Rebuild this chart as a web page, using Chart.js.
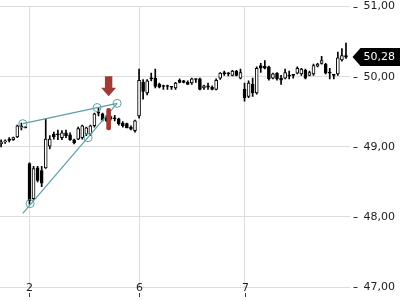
<!DOCTYPE html>
<html>
<head>
<meta charset="utf-8">
<script src="https://cdn.jsdelivr.net/npm/chart.js@4.4.1/dist/chart.umd.min.js"></script>
<style>
  html, body { margin: 0; padding: 0; background: #fff; }
  #wrap { width: 400px; height: 300px; }
</style>
</head>
<body>
<div id="wrap"><canvas id="priceChart"></canvas></div>
<script>
// intraday candles, one per slot
const opens = [49.04, 49.07, 49.11, 49.10, 49.14, 49.29, 49.28,
  48.76, 48.26, 48.70, 48.66, 48.70, 49.01, 49.18, 49.18, 49.13, 49.20, 49.17, 49.10, 49.11, 49.13, 49.18, 49.18, 49.30, 49.50, 49.47, 49.44, 49.43, 49.41, 49.40, 49.34, 49.33, 49.28, 49.23,
  49.44, 49.92, 49.77, 49.98, 49.98, 49.89, 49.87, 49.87, 49.86, 49.84, 49.95, 49.94, 49.92, 49.91, 49.96, 49.97, 49.84, 49.87, 49.85, 49.82, 49.98, 50.06, 50.05, 50.02, 50.08, 49.98,
  49.82, 49.72, 49.89, 49.77, 50.16, 50.15, 50.14, 49.98, 50.05, 49.98, 49.98, 50.02, 50.02, 50.05, 50.04, 50.09, 50.02, 50.04, 50.15, 50.19, 50.18, 50.06, 50.02, 50.04, 50.24, 50.30];
const highs = [49.10, 49.10, 49.13, 49.14, 49.31, 49.34, 49.29,
  48.77, 48.72, 48.72, 48.72, 49.40, 49.16, 49.21, 49.24, 49.23, 49.24, 49.20, 49.11, 49.28, 49.31, 49.28, 49.31, 49.48, 49.55, 49.48, 49.45, 49.44, 49.45, 49.41, 49.36, 49.34, 49.30, 49.38,
  50.11, 49.96, 49.96, 50.05, 50.11, 49.91, 49.88, 49.88, 49.86, 49.92, 49.97, 49.95, 49.94, 49.98, 49.97, 49.98, 49.88, 49.91, 49.87, 49.97, 50.06, 50.08, 50.06, 50.09, 50.09, 50.11,
  49.91, 49.94, 49.98, 50.14, 50.19, 50.23, 50.15, 50.05, 50.06, 50.02, 50.11, 50.08, 50.03, 50.14, 50.12, 50.11, 50.08, 50.18, 50.19, 50.29, 50.19, 50.12, 50.03, 50.35, 50.40, 50.48];
const lows = [49.00, 49.05, 49.07, 49.09, 49.13, 49.24, 49.27,
  48.18, 48.25, 48.50, 48.43, 48.69, 48.97, 49.11, 49.10, 49.10, 49.13, 49.09, 49.04, 49.10, 49.11, 49.16, 49.16, 49.28, 49.44, 49.37, 49.36, 49.38, 49.37, 49.31, 49.28, 49.27, 49.24, 49.21,
  49.41, 49.68, 49.74, 49.94, 49.84, 49.84, 49.82, 49.82, 49.82, 49.82, 49.91, 49.91, 49.89, 49.89, 49.92, 49.81, 49.82, 49.82, 49.81, 49.81, 49.96, 50.02, 50.01, 50.01, 50.01, 49.97,
  49.65, 49.70, 49.72, 49.75, 50.06, 50.11, 49.95, 49.97, 49.95, 49.89, 49.97, 49.97, 49.98, 50.04, 50.02, 49.97, 50.01, 50.02, 50.14, 50.18, 50.04, 49.97, 49.97, 50.02, 50.22, 50.26];
const closes = [49.07, 49.08, 49.09, 49.13, 49.30, 49.28, 49.27,
  48.23, 48.69, 48.52, 48.48, 49.11, 49.11, 49.14, 49.17, 49.20, 49.16, 49.10, 49.06, 49.26, 49.30, 49.27, 49.30, 49.47, 49.48, 49.38, 49.37, 49.40, 49.40, 49.33, 49.30, 49.27, 49.25, 49.37,
  49.95, 49.79, 49.94, 49.97, 49.86, 49.85, 49.86, 49.86, 49.85, 49.91, 49.92, 49.92, 49.89, 49.97, 49.96, 49.82, 49.87, 49.85, 49.82, 49.95, 50.05, 50.04, 50.04, 50.08, 50.02, 50.06,
  49.70, 49.91, 49.77, 50.12, 50.12, 50.12, 49.97, 50.04, 49.97, 49.95, 50.06, 50.01, 50.02, 50.12, 50.11, 49.98, 50.06, 50.16, 50.18, 50.23, 50.05, 50.05, 50.02, 50.27, 50.30, 50.28];

// day separators on the time axis
const dayTicks = [7, 34, 60];
const dayLabels = ["2", "6", "7"];
const priceTicks = [47, 48, 49, 50, 51];

// drawn trend lines and their anchor points (slot, price)
const trendUpper = [{ x: 5.35, y: 49.33 }, { x: 28.6, y: 49.62 }];
const trendLower = [{ x: 5.35, y: 48.05 }, { x: 28.6, y: 49.62 }];
const trendPoints = [
  { x: 5.35, y: 49.33 }, { x: 23.66, y: 49.56 }, { x: 28.6, y: 49.62 },
  { x: 7.15, y: 48.19 }, { x: 21.44, y: 49.13 },
];
// red marker bar and sell arrow
const markerSlot = [26.5];
const markerRange = [49.24, 49.55];
const arrowTip = 49.72;

const teal = "#5b9fa8";
const darkRed = "#9e3b35";

const fmt = (v) => v.toFixed(2).replace(".", ",");

const wickData = highs.map((h, i) => ({ x: i, y: [lows[i], h] }));
const bodyData = opens.map((o, i) => ({ x: i, y: [o, closes[i]] }));
const bodyFill = opens.map((o, i) => (closes[i] > o ? "#ffffff" : "#000000"));

const overlay = {
  id: "overlay",
  afterDatasetsDraw(chart) {
    const { ctx, chartArea, scales } = chart;
    const xs = scales.x;
    const ys = scales.y;
    ctx.save();

    // sell arrow
    const ax = xs.getPixelForValue(markerSlot[0]);
    const tipY = ys.getPixelForValue(arrowTip);
    ctx.fillStyle = darkRed;
    ctx.beginPath();
    ctx.moveTo(ax - 3.7, tipY - 20);
    ctx.lineTo(ax + 3.7, tipY - 20);
    ctx.lineTo(ax + 3.7, tipY - 8.5);
    ctx.lineTo(ax + 7.5, tipY - 8.5);
    ctx.lineTo(ax, tipY);
    ctx.lineTo(ax - 7.5, tipY - 8.5);
    ctx.lineTo(ax - 3.7, tipY - 8.5);
    ctx.closePath();
    ctx.fill();

    // price axis dashes
    ctx.strokeStyle = "#333";
    ctx.lineWidth = 1;
    ys.ticks.forEach((t) => {
      const py = Math.round(ys.getPixelForValue(t.value)) + 0.5;
      ctx.beginPath();
      ctx.moveTo(chartArea.right + 4, py);
      ctx.lineTo(chartArea.right + 8, py);
      ctx.stroke();
    });

    // day labels sit on the bottom line, tick marks just under them
    ctx.font = "11px 'DejaVu Sans'";
    ctx.textAlign = "center";
    ctx.textBaseline = "middle";
    xs.ticks.forEach((t) => {
      const px = Math.round(xs.getPixelForValue(t.value)) + 0.5;
      ctx.fillStyle = "#222";
      ctx.fillText(dayLabels[dayTicks.indexOf(t.value)], px, chartArea.bottom + 1.5);
      ctx.beginPath();
      ctx.moveTo(px, chartArea.bottom + 6);
      ctx.lineTo(px, chartArea.bottom + 10);
      ctx.stroke();
    });

    // last price tag
    const last = closes[closes.length - 1];
    const py = ys.getPixelForValue(last);
    const left = chartArea.right + 3;
    ctx.fillStyle = "#000";
    ctx.beginPath();
    ctx.moveTo(left, py);
    ctx.lineTo(left + 8, py - 9);
    ctx.lineTo(chart.width, py - 9);
    ctx.lineTo(chart.width, py + 9);
    ctx.lineTo(left + 8, py + 9);
    ctx.closePath();
    ctx.fill();
    ctx.fillStyle = "#fff";
    ctx.textBaseline = "middle";
    ctx.textAlign = "left";
    ctx.fillText(fmt(last), chartArea.right + 14, py + 0.5);

    ctx.restore();
  },
};

Chart.defaults.font.family = "'DejaVu Sans', sans-serif";
Chart.defaults.font.size = 11;
Chart.defaults.color = "#222";

new Chart(document.getElementById("priceChart"), {
  type: "bar",
  data: {
    datasets: [
      {
        label: "marker",
        data: [{ x: markerSlot[0], y: markerRange }],
        backgroundColor: darkRed,
        barThickness: 4,
        borderRadius: 2,
        borderSkipped: false,
        grouped: false,
        order: 0,
      },
      {
        type: "line",
        label: "points",
        data: trendPoints,
        showLine: false,
        pointRadius: 4,
        pointBorderWidth: 1,
        pointBorderColor: teal,
        pointBackgroundColor: "rgba(0,0,0,0)",
        order: 1,
      },
      {
        type: "line",
        label: "upper",
        data: trendUpper,
        borderColor: teal,
        borderWidth: 1.2,
        pointRadius: 0,
        order: 2,
      },
      {
        type: "line",
        label: "lower",
        data: trendLower,
        borderColor: teal,
        borderWidth: 1.2,
        pointRadius: 0,
        order: 2,
      },
      {
        label: "body",
        data: bodyData,
        backgroundColor: bodyFill,
        borderColor: "#000",
        borderWidth: 1,
        borderSkipped: false,
        barThickness: 3,
        minBarLength: 1,
        grouped: false,
        order: 3,
      },
      {
        label: "wick",
        data: wickData,
        backgroundColor: "#000",
        barThickness: 1,
        grouped: false,
        order: 4,
      },
    ],
  },
  options: {
    responsive: true,
    maintainAspectRatio: false,
    animation: false,
    layout: { padding: { top: 0, right: 5, bottom: 0, left: 0 }, autoPadding: false },
    plugins: {
      legend: { display: false },
      tooltip: { enabled: false },
    },
    scales: {
      x: {
        type: "linear",
        min: -0.27,
        max: 85.87,
        offset: false,
        afterBuildTicks: (axis) => {
          axis.ticks = dayTicks.map((v) => ({ value: v }));
        },
        afterFit: (axis) => {
          axis.height = 13;
        },
        ticks: { display: false },
        grid: { color: "#dddddd", drawTicks: false, offset: false },
        border: { display: false },
      },
      y: {
        position: "right",
        min: 47,
        max: 51,
        afterBuildTicks: (axis) => {
          axis.ticks = priceTicks.map((v) => ({ value: v }));
        },
        ticks: {
          padding: 0,
          callback: (v) => fmt(v),
        },
        grid: { color: "#dddddd", drawTicks: true, tickLength: 14, tickColor: "rgba(0,0,0,0)" },
        border: { display: false },
      },
    },
  },
  plugins: [overlay],
});
</script>
</body>
</html>
